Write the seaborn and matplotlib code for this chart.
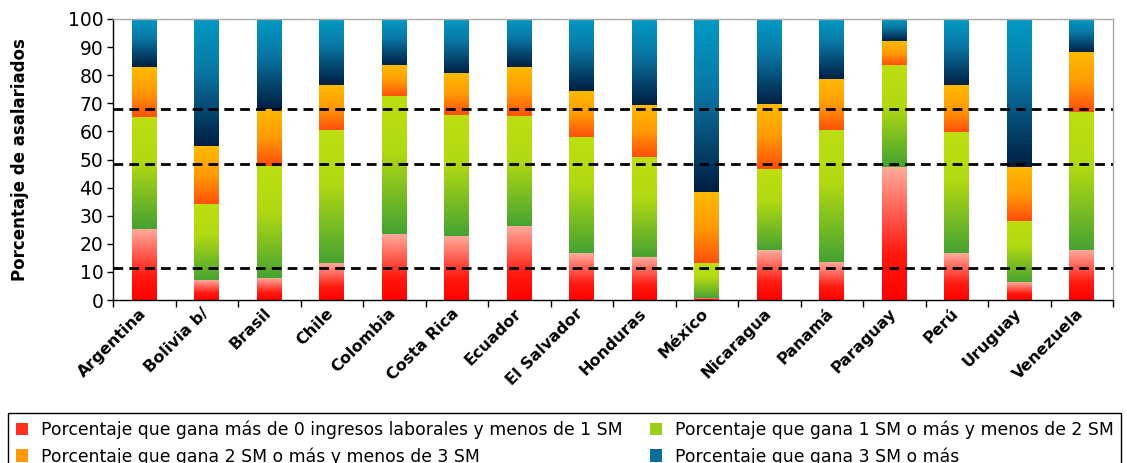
import numpy as np
import seaborn as sns
import matplotlib.pyplot as plt
from matplotlib.colors import LinearSegmentedColormap
from matplotlib.patches import Patch
from matplotlib.transforms import ScaledTranslation

paises = ['Argentina', 'Bolivia b/', 'Brasil', 'Chile', 'Colombia', 'Costa Rica',
          'Ecuador', 'El Salvador', 'Honduras', 'México', 'Nicaragua', 'Panamá',
          'Paraguay', 'Perú', 'Uruguay', 'Venezuela']

# porcentajes por tramo de salario minimo (SM)
menos_1sm = [25.2, 6.8, 7.6, 13.0, 23.4, 22.5, 26.0, 16.7, 15.1, 0.4, 17.5, 13.4, 47.3, 16.7, 6.2, 17.5]
de_1_a_2sm = [39.7, 27.1, 40.2, 47.3, 48.9, 43.2, 39.2, 41.1, 35.9, 12.5, 29.0, 46.9, 36.0, 42.7, 21.9, 49.4]
de_2_a_3sm = [17.9, 20.9, 20.1, 16.3, 11.1, 14.7, 17.6, 16.7, 18.4, 25.6, 22.9, 18.3, 8.8, 16.8, 19.2, 21.0]
mas_3sm = [17.2, 45.2, 32.1, 23.4, 16.6, 19.6, 17.2, 25.5, 30.6, 61.5, 30.6, 21.4, 7.9, 23.8, 52.7, 12.1]

lineas_ref = [68.1, 48.4, 11.4]

etiquetas = ['Porcentaje que gana más de 0 ingresos laborales y menos de 1 SM',
             'Porcentaje que gana 1 SM o más y menos de 2 SM',
             'Porcentaje que gana 2 SM o más y menos de 3 SM',
             'Porcentaje que gana 3 SM o más']

# degradados (abajo -> arriba)
cmaps = [
    LinearSegmentedColormap.from_list('r', [(0, '#ff0000'), (0.35, '#ff1a10'), (1, '#ffab9c')]),
    LinearSegmentedColormap.from_list('g', [(0, '#45a232'), (0.6, '#b2d912'), (1, '#bcdf10')]),
    LinearSegmentedColormap.from_list('o', [(0, '#ff4d0a'), (0.5, '#ff9a05'), (1, '#ffbb00')]),
    LinearSegmentedColormap.from_list('b', [(0, '#001e42'), (0.6, '#0a78a6'), (1, '#009bc4')]),
]
colores_legenda = ['#ff3020', '#9ccd18', '#ff9a05', '#0a6e9a']

plt.rcParams['font.family'] = ['DejaVu Sans']
fig, ax = plt.subplots(figsize=(11.27, 4.63), dpi=100)
fig.subplots_adjust(left=0.1003, right=0.9876, top=0.959, bottom=0.352)

series = np.array([menos_1sm, de_1_a_2sm, de_2_a_3sm, mas_3sm])
tops = np.cumsum(series, axis=0)
bottoms = np.vstack([np.zeros(len(paises)), tops[:-1]])

# barras acumuladas, de la mas alta a la mas baja
for k in reversed(range(4)):
    sns.barplot(x=paises, y=tops[k], color=colores_legenda[k], width=0.4,
                saturation=1, errorbar=None, ax=ax, zorder=1)

grad = np.linspace(0, 1, 256).reshape(-1, 1)
for ci, cont in enumerate(ax.containers):
    k = 3 - ci
    for i, p in enumerate(cont.patches):
        x0 = p.get_x()
        w = p.get_width()
        ax.imshow(grad, cmap=cmaps[k], origin='lower', aspect='auto',
                  extent=(x0, x0 + w, bottoms[k][i], tops[k][i]), zorder=2,
                  interpolation='bilinear')

for y in lineas_ref:
    ax.axhline(y, color='black', linestyle=(0, (3.5, 2.2)), linewidth=2, zorder=3)

ax.set_xlim(-0.5, len(paises) - 0.5)
ax.set_ylim(0, 100)
ax.set_yticks(range(0, 101, 10))
ax.tick_params(axis='y', labelsize=13.5, length=4, width=1, pad=3)
ax.set_xticks(np.arange(-0.5, len(paises), 1), minor=True)
ax.tick_params(axis='x', which='major', length=0, pad=4)
ax.tick_params(axis='x', which='minor', length=5, width=1)
ax.set_xticks(range(len(paises)))
ax.set_xticklabels(paises, rotation=45, ha='right', rotation_mode='anchor',
                   fontsize=11.5, fontweight='bold')
desplaza = ScaledTranslation(-6 / 100, 0, fig.dpi_scale_trans)
for lab in ax.get_xticklabels():
    lab.set_transform(lab.get_transform() + desplaza)

ax.set_ylabel('Porcentaje de asalariados', fontsize=12, fontweight='bold', labelpad=28)
ax.set_xlabel('')

for s in ['left', 'bottom']:
    ax.spines[s].set_color('black')
    ax.spines[s].set_linewidth(1)
for s in ['top', 'right']:
    ax.spines[s].set_color('#a8a8a8')
    ax.spines[s].set_linewidth(1)

orden = [0, 2, 1, 3]
handles = [Patch(facecolor=colores_legenda[k], edgecolor='none', label=etiquetas[k]) for k in orden]
leg = fig.legend(handles=handles, loc='upper left', ncol=2,
                 bbox_to_anchor=(8 / 1127, 1 - 413 / 463), borderaxespad=0,
                 fontsize=12.4, handlelength=0.7, handleheight=0.7, handletextpad=0.75,
                 labelspacing=0.45, columnspacing=1.6, fancybox=False, edgecolor='black',
                 framealpha=1, borderpad=0.45)
leg.get_frame().set_linewidth(1)

fig.savefig('out.png', dpi=100)
